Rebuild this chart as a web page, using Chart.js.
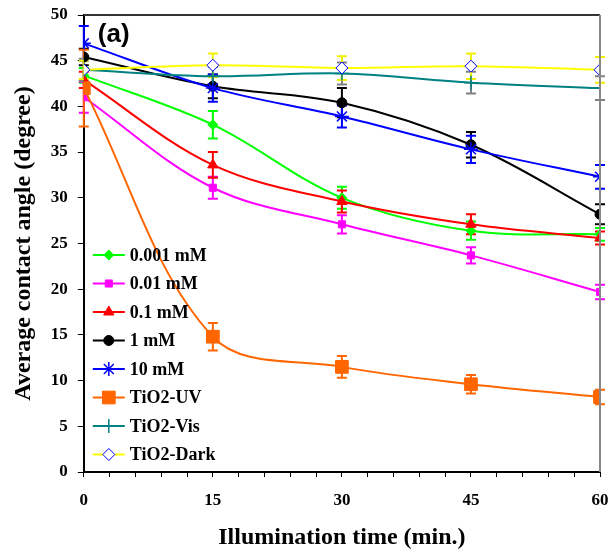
<!DOCTYPE html>
<html>
<head>
<meta charset="utf-8">
<script src="https://cdn.jsdelivr.net/npm/chart.js@4/dist/chart.umd.min.js"></script>
<style>
  html, body { margin: 0; padding: 0; background: #fff; }
  #wrap { width: 610px; height: 550px; position: relative; }
</style>
</head>
<body>
<div id="wrap"><canvas id="chart"></canvas></div>
<script>
const times = [0, 15, 30, 45, 60];
const seriesNames = ['0.001 mM', '0.01 mM', '0.1 mM', '1 mM', '10 mM', 'TiO2-UV', 'TiO2-Vis', 'TiO2-Dark'];

const v0001 = [43.4, 38.0, 30.0, 26.4, 26.0];
const v001 = [41.0, 31.1, 27.1, 23.7, 19.7];
const v01 = [42.9, 33.6, 29.6, 27.1, 25.6];
const v1 = [45.4, 42.2, 40.4, 35.8, 28.2];
const v10 = [46.9, 42.0, 38.9, 35.3, 32.3];
const vUV = [42.0, 14.8, 11.5, 9.6, 8.2];
const vVis = [44.0, 43.3, 43.6, 42.6, 42.0];
const vDark = [44.0, 44.5, 44.2, 44.4, 44.0];

const e0001 = [0.8, 1.5, 1.2, 1.0, 0.7];
const e001 = [1.7, 1.2, 1.0, 0.9, 0.8];
const e01 = [0.9, 1.4, 1.2, 1.1, 0.7];
const e1 = [0.9, 1.3, 1.6, 1.4, 1.1];
const e10 = [1.9, 1.5, 1.2, 1.5, 1.3];
const eUV = [4.2, 1.5, 1.2, 1.0, 0.8];
const eVis = [1.2, 1.0, 1.2, 1.2, 1.3];
const eDark = [1.0, 1.3, 1.3, 1.4, 1.4];

const serif = "'Liberation Serif', 'Times New Roman', serif";

function series(label, values, errors, color, style, radius, extra) {
  return Object.assign({
    label: label,
    data: times.map((t, i) => ({ x: t, y: values[i] })),
    errors: errors,
    errColor: color,
    borderColor: color,
    backgroundColor: color,
    pointBackgroundColor: color,
    pointBorderColor: color,
    pointStyle: style,
    pointRadius: radius,
    pointBorderWidth: 1,
    borderWidth: 2,
    tension: 0.35,
    fill: false
  }, extra || {});
}

const datasets = [
  series(seriesNames[0], v0001, e0001, '#00ff00', 'rectRot', 5),
  series(seriesNames[1], v001, e001, '#ff00ff', 'rect', 5),
  series(seriesNames[2], v01, e01, '#ff0000', 'triangle', 6),
  series(seriesNames[3], v1, e1, '#000000', 'circle', 5),
  series(seriesNames[4], v10, e10, '#0000ff', 'star', 7, { pointBorderWidth: 1.5 }),
  series(seriesNames[5], vUV, eUV, '#ff6600', 'rect', 9),
  series(seriesNames[6], vVis, eVis, '#008080', 'cross', 7, { errColor: '#808080', pointBorderWidth: 1.5 }),
  series(seriesNames[7], vDark, eDark, '#ffff00', 'rectRot', 6, {
    pointBackgroundColor: '#ffffff', pointBorderColor: '#0000ff', errColor: '#f0f000'
  })
];
// later series drawn on top, like the original
datasets.forEach((d, i) => { d.order = datasets.length - i; });

const errorBars = {
  id: 'errorBars',
  beforeDatasetsDraw(chart) {
    const ctx = chart.ctx;
    const xs = chart.scales.x, ys = chart.scales.y;
    ctx.save();
    chart.data.datasets.forEach((ds) => {
      ctx.strokeStyle = ds.errColor;
      ctx.lineWidth = 2;
      ds.data.forEach((p, i) => {
        const e = ds.errors[i];
        const px = xs.getPixelForValue(p.x);
        const top = ys.getPixelForValue(p.y + e);
        const bot = ys.getPixelForValue(p.y - e);
        ctx.beginPath();
        ctx.moveTo(px, top); ctx.lineTo(px, bot);
        ctx.moveTo(px - 5, top); ctx.lineTo(px + 5, top);
        ctx.moveTo(px - 5, bot); ctx.lineTo(px + 5, bot);
        ctx.stroke();
      });
    });
    ctx.restore();
  }
};

const frameAndLegend = {
  id: 'frameAndLegend',
  afterDraw(chart) {
    const ctx = chart.ctx;
    const a = chart.chartArea;
    ctx.save();
    // top and right border
    ctx.lineWidth = 2;
    ctx.strokeStyle = '#333333';
    ctx.beginPath(); ctx.moveTo(a.left, a.top); ctx.lineTo(a.right, a.top); ctx.stroke();
    ctx.strokeStyle = '#888888';
    ctx.beginPath(); ctx.moveTo(a.right, a.top); ctx.lineTo(a.right, a.bottom); ctx.stroke();

    // panel label
    ctx.fillStyle = '#000';
    ctx.font = "bold 26px 'Liberation Sans', Arial, sans-serif";
    ctx.textBaseline = 'middle';
    ctx.textAlign = 'left';
    ctx.fillText('(a)', a.left + 14, a.top + 20);

    // legend
    const x0 = a.left + 9, x1 = a.left + 41, mx = a.left + 25;
    let y = 255;
    chart.data.datasets.forEach((ds) => {
      ctx.strokeStyle = ds.borderColor;
      ctx.lineWidth = 2;
      ctx.beginPath(); ctx.moveTo(x0, y); ctx.lineTo(x1, y); ctx.stroke();
      ctx.fillStyle = ds.pointBackgroundColor;
      ctx.strokeStyle = ds.pointBorderColor;
      ctx.lineWidth = ds.pointBorderWidth;
      Chart.helpers.drawPoint(ctx, { pointStyle: ds.pointStyle, radius: ds.pointRadius, borderWidth: ds.pointBorderWidth, rotation: 0 }, mx, y);
      ctx.fillStyle = '#000';
      ctx.font = 'bold 18px ' + serif;
      ctx.fillText(ds.label, a.left + 46, y + 1);
      y += 28.5;
    });
    ctx.restore();
  }
};

new Chart(document.getElementById('chart'), {
  type: 'line',
  data: { datasets: datasets },
  plugins: [errorBars, frameAndLegend],
  options: {
    responsive: true,
    maintainAspectRatio: false,
    animation: false,
    layout: { padding: { top: 15, right: 0, left: 9, bottom: 0 } },
    plugins: { legend: { display: false }, tooltip: { enabled: false } },
    scales: {
      x: {
        type: 'linear',
        min: 0, max: 60,
        afterFit: (s) => { s.paddingRight = 10; s.paddingLeft = 0; },
        border: { color: '#000', width: 2 },
        grid: { drawOnChartArea: false, color: '#000', tickLength: 5, tickWidth: 1 },
        ticks: {
          stepSize: 3,
          autoSkip: false,
          maxRotation: 0,
          padding: 15,
          color: '#000',
          font: { family: serif, size: 17, weight: 'bold', lineHeight: 1 },
          callback: (v) => (v % 15 === 0 ? v : '')
        },
        title: {
          display: true,
          text: 'Illumination time (min.)',
          color: '#000',
          font: { family: serif, size: 24, weight: 'bold', lineHeight: 1 },
          padding: { top: 2, bottom: 0 }
        }
      },
      y: {
        min: 0, max: 50,
        afterFit: (s) => { s.paddingTop = 0; s.paddingBottom = 0; },
        border: { color: '#000', width: 2 },
        grid: { drawOnChartArea: false, color: '#000', tickLength: 6, tickWidth: 1 },
        ticks: {
          stepSize: 5,
          padding: 10,
          color: '#000',
          font: { family: serif, size: 17, weight: 'bold' }
        },
        title: {
          display: true,
          text: 'Average contact angle (degree)',
          color: '#000',
          font: { family: serif, size: 24, weight: 'bold', lineHeight: 1.2 },
          padding: { top: 0, bottom: 3 }
        }
      }
    }
  }
});
</script>
</body>
</html>
